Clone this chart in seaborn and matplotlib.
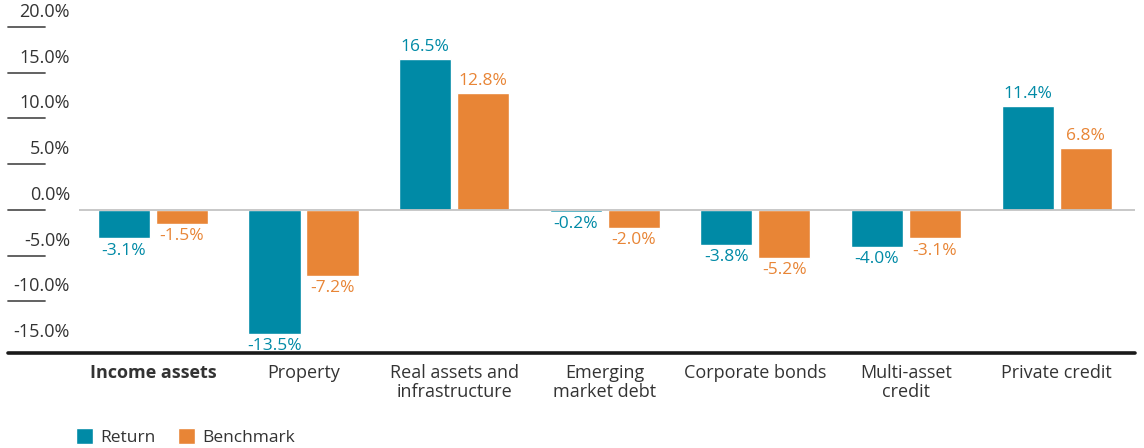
import matplotlib
matplotlib.use('Agg')
import matplotlib.pyplot as plt
import matplotlib.transforms as mtrans
from matplotlib.patches import Patch
from matplotlib.lines import Line2D
import seaborn as sns
import pandas as pd

categories = ["Income assets", "Property", "Real assets and\ninfrastructure",
              "Emerging\nmarket debt", "Corporate bonds", "Multi-asset\ncredit",
              "Private credit"]
return_vals = [-3.1, -13.5, 16.5, -0.2, -3.8, -4.0, 11.4]
benchmark_vals = [-1.5, -7.2, 12.8, -2.0, -5.2, -3.1, 6.8]
series = ["Return", "Benchmark"]
colors = ["#008AA6", "#E88536"]
y_ticks = [20, 15, 10, 5, 0, -5, -10, -15]
y_tick_labels = ["20.0%", "15.0%", "10.0%", "5.0%", "0.0%", "-5.0%", "-10.0%", "-15.0%"]

df = pd.DataFrame({
    "category": categories * 2,
    "series": [series[0]] * len(categories) + [series[1]] * len(categories),
    "value": return_vals + benchmark_vals,
})

sns.set_style("white")
plt.rcParams['font.family'] = ['Open Sans', 'DejaVu Sans']

W, H = 1144, 448
fig = plt.figure(figsize=(W / 100, H / 100), dpi=100)
ax = fig.add_axes([79 / W, 95 / H, 1056 / W, 353 / H])

sns.barplot(data=df, x="category", y="value", hue="series", order=categories,
            hue_order=series, palette=colors, width=0.77, gap=0.1,
            saturation=1, legend=False, ax=ax, zorder=2)

ax.set_xlim(-0.49, 6.52)
ax.set_ylim(-15.63, 22.95)
for s in ax.spines.values():
    s.set_visible(False)
ax.set_yticks([])
ax.set_xlabel("")
ax.set_ylabel("")
ax.tick_params(axis="x", length=0, pad=8, labelsize=13, labelcolor="#333333")
for lab in ax.get_xticklabels():
    lab.set_linespacing(1.05)
ax.get_xticklabels()[0].set_fontweight("bold")

ax.axhline(0, color="#c4c4c4", lw=1.3, zorder=3)

for cont, col in zip(ax.containers, colors):
    ax.bar_label(cont, labels=[f"{v:.1f}%" for v in cont.datavalues],
                 padding=3, color=col, fontsize=12.5)

# y tick marks and labels
trans = mtrans.blended_transform_factory(fig.transFigure, ax.transData)
label_trans = mtrans.offset_copy(trans, fig=fig, y=15, units="dots")
for t, lab in zip(y_ticks, y_tick_labels):
    if t != -15:
        fig.add_artist(Line2D([8 / W, 45 / W], [t, t], transform=trans,
                              color="#555555", lw=1.3))
    fig.text(70 / W, t, lab, transform=label_trans, ha="right", va="center",
             fontsize=13, color="#333333")

# bottom baseline
fig.add_artist(Line2D([8 / W, 1135 / W], [95 / H, 95 / H], transform=fig.transFigure,
                      color="#1a1a1a", lw=2.6))

handles = [Patch(facecolor=c, label=s) for s, c in zip(series, colors)]
fig.legend(handles=handles, loc="center left", bbox_to_anchor=(76 / W, 1 - 437 / H),
           ncol=2, frameon=False, handlelength=1.0, handleheight=1.0,
           handletextpad=0.4, columnspacing=1.3, fontsize=12.5,
           borderaxespad=0, borderpad=0, labelcolor="#333333")

fig.savefig("out.png", dpi=100)
